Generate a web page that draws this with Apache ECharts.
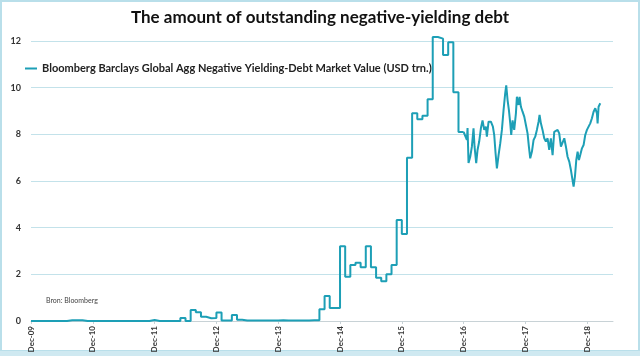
<!DOCTYPE html>
<html>
<head>
<meta charset="utf-8">
<script src="https://cdn.jsdelivr.net/npm/echarts@6/dist/echarts.min.js"></script>
<style>html,body{margin:0;padding:0;background:#fff;}#c{width:640px;height:356px;}</style>
</head>
<body>
<div id="c"></div>
<script>
// x values are months counted from Dec-09 (0 = Dec-09, 12 = Dec-10, ...)
const seriesName = 'Bloomberg Barclays Global Agg Negative Yielding-Debt Market Value (USD trn.)';
const tickYears = ['09','10','11','12','13','14','15','16','17','18'];
// monthly values (step), index = month since Dec-09
const monthlyValues = [
  0,0,0,0,0,0,0,0.03,0.03,0.03,
  0,0,0,0,0,0,0,0,0,0,
  0,0,0,0.04,0,0,0,0,0,0.13,
  0,0.47,0.38,0.18,0.12,0.13,0.36,0.02,0.02,0.26,
  0.05,0.02,0.02,0.02,0.02,0.02,0.02,0.02,0.03,0.02,
  0.02,0.02,0.02,0.02,0.03,0.03,0.5,1.07,0.56,0.56,
  3.2,1.9,2.4,2.5,2.3,3.2,2.3,1.85,1.7,2.0,
  2.4,4.33,3.73,7.0,8.9,8.65,8.8,9.5,12.17,12.1,
  11.4,11.95,9.8,8.1,8.1
];
// higher-frequency values from Dec-16 onward
const dailyX = [84.0,84.11,84.30,84.63,84.76,84.95,85.28,85.60,85.92,86.12,86.44,86.70,87.02,87.35,87.67,88.00,88.32,88.51,88.84,89.29,89.68,89.94,90.20,90.46,90.78,91.10,91.43,91.75,92.07,92.27,92.53,92.79,93.05,93.24,93.50,93.82,94.15,94.34,94.66,94.86,95.12,95.44,95.77,96.09,96.41,96.67,96.93,97.26,97.58,97.90,98.22,98.55,98.74,99.00,99.32,99.65,99.97,100.30,100.62,100.94,101.27,101.59,101.92,102.24,102.56,102.89,103.21,103.54,103.86,104.18,104.51,104.83,105.09,105.35,105.61,105.87,106.13,106.39,106.64,106.97,107.29,107.61,107.94,108.26,108.58,108.91,109.23,109.56,109.88,110.01,110.20,110.53];
const dailyY = [8.1,8.1,8.04,7.76,8.27,6.77,7.04,7.47,8.26,7.47,6.76,7.33,7.69,8.26,8.6,8.19,8.33,7.9,8.54,8.54,8.33,7.97,7.19,6.54,7.11,7.6,8.19,9.04,9.76,10.1,9.47,9.04,8.47,7.97,8.6,8.19,8.9,9.61,9.26,9.6,9.18,8.97,8.76,8.4,8.04,7.47,6.97,7.26,7.76,7.9,8.19,8.54,8.83,8.47,8.19,7.83,7.69,7.83,7.33,7.83,7.11,8.11,8.19,8.19,8.04,7.47,7.54,7.83,7.47,7.04,6.83,6.47,6.11,5.76,6.19,6.9,7.26,6.9,7.11,7.4,7.54,7.97,8.19,8.33,8.47,8.69,8.97,9.12,8.9,8.47,9.18,9.33];

const lineColor = '#1d9fb6';
const chart = echarts.init(document.getElementById('c'), null, {renderer: 'canvas'});
const stepData = monthlyValues.map((v, i) => [i, v]);
const dailyData = dailyX.map((x, i) => [x, dailyY[i]]);
chart.setOption({
  animation: false,
  title: {
    text: 'The amount of outstanding negative-yielding debt',
    left: 'center', top: 4,
    textStyle: {fontFamily: 'Lato', fontWeight: 'bold', fontSize: 17, color: '#111'}
  },
  legend: {
    data: [seriesName],
    left: 20, top: 58,
    icon: 'rect', itemWidth: 12, itemHeight: 2, itemGap: 4,
    textStyle: {fontFamily: 'Lato', fontWeight: 'bold', fontSize: 11, color: '#222'}
  },
  grid: {left: 31, right: 27, top: 41, bottom: 35, containLabel: false},
  xAxis: {
    type: 'value', min: 0, max: 113, interval: 12,
    axisLine: {lineStyle: {color: '#c8d2d6'}},
    axisTick: {show: true, length: 3, lineStyle: {color: '#c8d2d6'}},
    splitLine: {show: false},
    axisLabel: {
      rotate: 90, fontSize: 8, fontWeight: 'bold', fontFamily: 'Lato', color: '#333', margin: 5,
      showMaxLabel: false,
      formatter: function (v) { const k = v / 12; return Number.isInteger(k) && tickYears[k] ? 'Dec-' + tickYears[k] : ''; }
    }
  },
  yAxis: {
    type: 'value', min: 0, max: 12, interval: 2,
    axisLine: {show: false}, axisTick: {show: false},
    splitLine: {lineStyle: {color: '#c3e2ea', width: 1}},
    axisLabel: {fontSize: 9, fontWeight: 'bold', fontFamily: 'Lato', color: '#333', margin: 10}
  },
  series: [
    {name: seriesName, type: 'line', step: 'end', data: stepData, showSymbol: false, symbol: 'none', clip: false,
     lineStyle: {color: lineColor, width: 2}, itemStyle: {color: lineColor}},
    {name: seriesName, type: 'line', data: dailyData, showSymbol: false, symbol: 'none', clip: false,
     lineStyle: {color: lineColor, width: 2}, itemStyle: {color: lineColor}}
  ],
  graphic: [
    {type: 'text', left: 46, top: 297, style: {text: 'Bron: Bloomberg', fontSize: 7, fontFamily: 'Lato', fill: '#444'}},
    {type: 'rect', shape: {x: 1, y: 1, width: 638, height: 350}, style: {fill: 'none', stroke: '#b9dfea', lineWidth: 2}, silent: true},
    {type: 'rect', shape: {x: 0, y: 351, width: 640, height: 5}, style: {fill: '#cfe9f1'}, silent: true}
  ]
});
</script>
</body>
</html>
